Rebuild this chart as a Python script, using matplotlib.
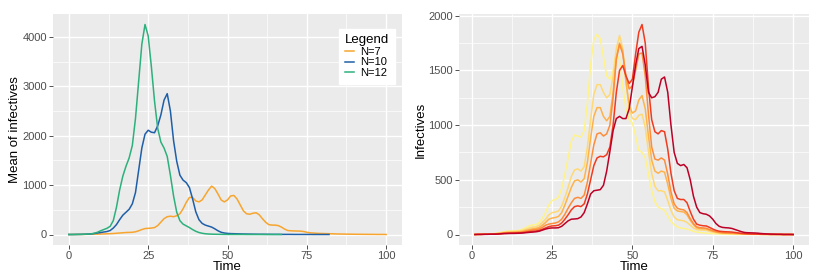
import matplotlib
matplotlib.use("Agg")
import matplotlib.pyplot as plt
from matplotlib.ticker import MultipleLocator
import numpy as np

plt.rcParams['font.family'] = ['Liberation Sans', 'DejaVu Sans']

# ---------------- Left panel data ----------------
n7 = [0, 0, 1, 1, 2, 3, 4, 5, 7, 8, 10, 12, 14, 17, 20, 25, 30, 35, 40, 42,
      45, 55, 75, 100, 120, 125, 130, 140, 180, 250, 320, 360, 370, 360, 380, 420, 520, 650, 750, 750,
      680, 660, 700, 800, 900, 980, 930, 820, 700, 660, 700, 780, 790, 720, 600, 480, 420, 410, 430, 440,
      400, 320, 250, 200, 190, 190, 180, 150, 110, 80, 75, 72, 70, 68, 60, 45, 35, 30, 25, 22,
      20, 18, 16, 14, 12, 10, 9, 8, 7, 6, 5, 4, 4, 3, 3, 2, 2, 1, 1, 1, 0]
n10 = [0, 0, 1, 2, 3, 5, 8, 12, 20, 30, 40, 50, 60, 80, 130, 200, 300, 390, 450, 510,
       620, 850, 1300, 1750, 2030, 2110, 2070, 2060, 2200, 2420, 2720, 2850, 2500, 1900, 1480, 1200, 1100, 1050, 950, 720,
       460, 300, 225, 190, 170, 150, 115, 75, 45, 30, 22, 18, 16, 14, 12, 10, 9, 8, 7, 6,
       5, 5, 4, 4, 3, 3, 3, 2, 2, 2, 2, 1, 1, 1, 1, 1, 1, 0, 0, 0, 0, 0, 0]
n12 = [0, 0, 1, 2, 3, 5, 8, 12, 25, 45, 75, 100, 125, 165, 280, 550, 900, 1180, 1380, 1550,
       1800, 2350, 3100, 3850, 4250, 4020, 3400, 2700, 2150, 1870, 1750, 1580, 1200, 780, 450, 280, 210, 175, 140, 100,
       65, 40, 25, 15, 10, 7, 5, 4, 3, 2, 2, 1, 1, 1, 1, 1, 0, 0, 0, 0,
       0, 0, 0, 0, 0, 0, 0, 0]
left_series = [("N=7", n7, "#F7A52E"), ("N=10", n10, "#1F5FA8"), ("N=12", n12, "#2DB07C")]

# ---------------- Right panel data (t = 1..100) ----------------
s1 = [0, 1, 2, 3, 4, 6, 8, 12, 18, 25, 30, 32, 33, 35, 40, 50, 65, 80, 88, 90,
      110, 150, 200, 270, 310, 320, 340, 420, 550, 700, 850, 910, 900, 890, 950, 1200, 1550, 1780, 1830, 1790,
      1620, 1450, 1420, 1500, 1650, 1600, 1350, 1150, 1050, 1020, 900, 770, 750, 700, 550, 400, 300, 250, 235, 220,
      170, 120, 90, 70, 60, 55, 50, 40, 30, 22, 18, 15, 12, 10, 8, 6, 5, 4, 3, 2,
      2, 2, 1, 1, 1, 1, 1, 1, 1, 1, 0, 0, 0, 0, 0, 0, 0, 0, 0, 0]
s2 = [0, 1, 2, 3, 4, 5, 7, 10, 15, 20, 25, 27, 28, 30, 33, 40, 50, 60, 68, 70,
      85, 110, 140, 180, 200, 205, 215, 260, 340, 430, 530, 590, 600, 580, 620, 800, 1050, 1280, 1370, 1370,
      1300, 1250, 1280, 1450, 1700, 1820, 1700, 1400, 1150, 1060, 1050, 1090, 1100, 980, 760, 560, 440, 400, 400, 390,
      310, 220, 160, 135, 130, 125, 110, 85, 60, 45, 42, 40, 38, 30, 22, 16, 12, 10, 9, 8,
      7, 6, 5, 4, 3, 3, 2, 2, 2, 1, 1, 1, 1, 1, 0, 0, 0, 0, 0, 0]
s3 = [0, 1, 2, 3, 3, 4, 6, 8, 12, 15, 18, 20, 21, 22, 25, 30, 38, 45, 52, 55,
      65, 85, 110, 140, 150, 155, 165, 200, 270, 350, 430, 490, 500, 480, 510, 660, 880, 1080, 1160, 1160,
      1080, 1040, 1080, 1300, 1620, 1750, 1680, 1400, 1180, 1110, 1130, 1230, 1270, 1150, 900, 680, 580, 560, 580, 570,
      460, 330, 240, 215, 210, 205, 180, 130, 90, 60, 55, 52, 50, 40, 30, 22, 17, 14, 12, 11,
      10, 9, 8, 7, 6, 5, 4, 3, 3, 2, 2, 2, 1, 1, 1, 1, 0, 0, 0, 0]
s4 = [0, 1, 1, 2, 3, 4, 5, 7, 9, 12, 14, 16, 17, 18, 20, 24, 30, 36, 42, 45,
      52, 65, 85, 95, 100, 105, 115, 140, 185, 240, 290, 330, 340, 330, 360, 480, 650, 820, 920, 930,
      900, 920, 1000, 1250, 1600, 1740, 1650, 1450, 1330, 1360, 1500, 1650, 1660, 1450, 1100, 800, 690, 680, 700, 680,
      550, 390, 280, 240, 230, 225, 200, 145, 100, 70, 62, 60, 57, 45, 35, 27, 20, 17, 15, 13,
      12, 11, 10, 8, 7, 6, 5, 4, 3, 3, 2, 2, 1, 1, 1, 1, 0, 0, 0, 0]
s5 = [0, 1, 1, 2, 2, 3, 4, 5, 7, 10, 11, 12, 13, 14, 15, 18, 22, 26, 30, 32,
      38, 48, 60, 72, 78, 80, 85, 105, 140, 180, 225, 255, 262, 255, 280, 370, 500, 630, 700, 715,
      710, 730, 800, 1000, 1300, 1500, 1545, 1450, 1380, 1420, 1650, 1850, 1920, 1750, 1350, 1050, 940, 920, 950, 940,
      780, 560, 400, 330, 320, 320, 290, 210, 140, 95, 85, 80, 78, 65, 50, 38, 30, 27, 25, 24,
      22, 18, 14, 10, 8, 6, 5, 4, 3, 2, 2, 2, 1, 1, 1, 1, 0, 0, 0, 0]
s6 = [0, 1, 1, 2, 2, 3, 3, 4, 6, 8, 9, 10, 10, 11, 12, 14, 17, 20, 22, 25,
      30, 40, 50, 57, 60, 60, 62, 75, 100, 125, 140, 142, 145, 160, 200, 280, 370, 400, 405, 410,
      450, 580, 760, 950, 1060, 1080, 1060, 1060, 1150, 1350, 1550, 1700, 1720, 1550, 1300, 1250, 1260, 1300, 1420, 1440,
      1300, 1000, 750, 650, 630, 640, 610, 500, 350, 250, 200, 190, 185, 170, 140, 100, 75, 65, 62, 60,
      55, 45, 35, 25, 18, 16, 15, 14, 12, 9, 7, 5, 4, 3, 2, 2, 1, 1, 1, 0]
right_series = [s1, s2, s3, s4, s5, s6]
right_colors = ["#FFF38A", "#FED976", "#FEB24C", "#FD8D3C", "#F03B20", "#BD0026"]

BG = "#EBEBEB"
TICKC = "#4D4D4D"

def style(ax):
    ax.set_facecolor(BG)
    for s in ax.spines.values():
        s.set_visible(False)
    ax.grid(which="major", color="white", lw=1.0)
    ax.grid(which="minor", color="white", lw=0.5)
    ax.set_axisbelow(True)
    ax.tick_params(which="major", length=2.8, width=0.6, color="#333333",
                   labelsize=8, labelcolor=TICKC, pad=1.5)
    ax.tick_params(which="minor", length=0)

fig = plt.figure(figsize=(8.16, 2.78), dpi=100)
ax1 = fig.add_axes([53/816, 33/278, 349/816, 231/278])
ax2 = fig.add_axes([459/816, 33/278, 350/816, 231/278])

for name, vals, col in left_series:
    t = np.arange(len(vals))
    ax1.plot(t, vals, color=col, lw=1.1, label=name)
style(ax1)
ax1.set_xlim(-5, 105)
ymax1 = max(max(v) for _, v, _ in left_series)
ax1.set_ylim(-0.05 * ymax1, ymax1 * 1.05)
ax1.xaxis.set_major_locator(MultipleLocator(25))
ax1.xaxis.set_minor_locator(MultipleLocator(12.5))
ax1.yaxis.set_major_locator(MultipleLocator(1000))
ax1.yaxis.set_minor_locator(MultipleLocator(500))
ax1.set_xlabel("Time", fontsize=9.5, labelpad=0)
ax1.set_ylabel("Mean of infectives", fontsize=9.5, labelpad=1)
leg = ax1.legend(title="Legend", loc="upper right", bbox_to_anchor=(0.995, 0.96),
                 fontsize=8, title_fontsize=9.5, frameon=True, facecolor="white",
                 edgecolor="white", framealpha=1, fancybox=False, handlelength=0.8,
                 handletextpad=0.6, labelspacing=0.05, borderpad=0.5, alignment="left")

for vals, col in zip(right_series, right_colors):
    t = np.arange(1, len(vals) + 1)
    ax2.plot(t, vals, color=col, lw=1.1)
style(ax2)
ax2.set_xlim(1 - 0.05 * 99, 100 + 0.05 * 99)
ymax2 = max(max(v) for v in right_series)
ax2.set_ylim(-0.05 * ymax2, ymax2 * 1.05)
ax2.xaxis.set_major_locator(MultipleLocator(25))
ax2.xaxis.set_minor_locator(MultipleLocator(12.5))
ax2.yaxis.set_major_locator(MultipleLocator(500))
ax2.yaxis.set_minor_locator(MultipleLocator(250))
ax2.set_xlabel("Time", fontsize=9.5, labelpad=0)
ax2.set_ylabel("Infectives", fontsize=9.5, labelpad=1)

fig.savefig("out.png", dpi=100, facecolor="white")
